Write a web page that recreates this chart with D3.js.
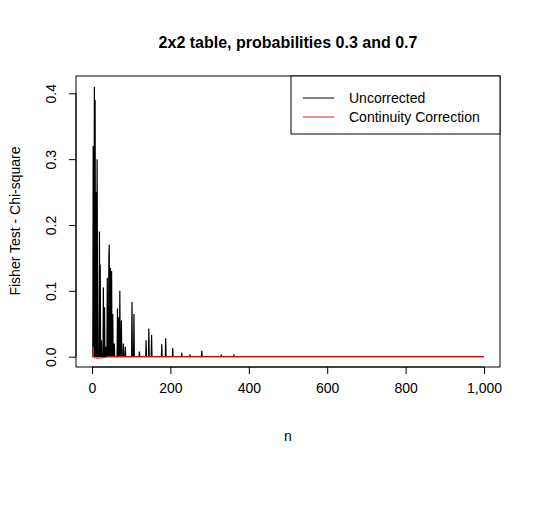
<!DOCTYPE html>
<html><head><meta charset="utf-8">
<script src="https://cdn.jsdelivr.net/npm/d3@7"></script>
<style>body{margin:0;background:#fff}text{font-family:"Liberation Sans",Arial,sans-serif}</style>
</head><body><svg id="chart" width="540" height="520"></svg>
<script>
// spikes of the uncorrected difference, [n, value]; all other n read as 0
const uncorrectedSpikes = [
  [3,.32],[6,.41],[8,.39],[10,.25],[13,.30],[14,.12],[19,.19],[21,.14],[24,.025],
  [29,.105],[32,.075],[35,.015],[39,.12],[43,.15],[44,.17],[47,.135],[50,.13],
  [53,.065],[57,.02],[65,.073],[68,.06],[71,.10],[75,.055],[80,.02],[85,.015],
  [102,.083],[107,.065],[121,.008],[138,.025],[145,.043],[152,.033],[178,.019],
  [188,.028],[206,.013],[229,.006],[250,.003],[280,.009],[330,.003],[362,.002]
];
const correctedPoints = [[1,0],[3,.015],[4,-.001],[10,-.002],[25,-.002],[40,0],[1000,0]];
const nMax = 1000;
const xTicks = [0,200,400,600,800,1000];
const yTicks = [0,0.1,0.2,0.3,0.4];
const seriesNames = ["Uncorrected","Continuity Correction"];
const seriesColors = ["#000","#e41a1c"];

const spikeMap = new Map(uncorrectedSpikes);
const uncorrected = d3.range(1, nMax + 1).map(n => [n, spikeMap.get(n) || 0]);

const svg = d3.select("#chart");
const boxL = 76, boxR = 500, boxT = 76, boxB = 367;
const x = d3.scaleLinear().domain([0, 1000]).range([92, 484]);
const y = d3.scaleLinear().domain([0, 0.4]).range([356.7, 93.3]);

const line = d3.line().x(d => x(d[0])).y(d => y(d[1]));
svg.append("path").datum(uncorrected).attr("d", line)
  .attr("fill", "none").attr("stroke", seriesColors[0]).attr("stroke-width", 1.2);
svg.append("path").datum(correctedPoints).attr("d", line)
  .attr("fill", "none").attr("stroke", seriesColors[1]).attr("stroke-width", 1);

svg.append("rect").attr("x", boxL).attr("y", boxT).attr("width", boxR - boxL).attr("height", boxB - boxT)
  .attr("fill", "none").attr("stroke", "#000");

const xAxis = svg.append("g").attr("transform", `translate(0,${boxB})`)
  .call(d3.axisBottom(x).tickValues(xTicks).tickSize(7).tickPadding(9));
xAxis.select(".domain").attr("d", `M${x(0)},0H${x(1000)}`);
const yAxis = svg.append("g").attr("transform", `translate(${boxL},0)`)
  .call(d3.axisLeft(y).tickValues(yTicks).tickSize(7).tickFormat(d3.format(".1f")));
yAxis.select(".domain").attr("d", `M0,${y(0)}V${y(0.4)}`);
// R draws y tick labels rotated, parallel to the axis
yAxis.selectAll(".tick text")
  .attr("x", 0).attr("dy", 0)
  .attr("transform", "translate(-20,0) rotate(-90)")
  .attr("text-anchor", "middle");
svg.selectAll(".tick text").attr("font-size", 14).attr("fill", "#000")
  .style("font-family", "'Liberation Sans',Arial,sans-serif");
svg.selectAll(".domain, .tick line").attr("stroke", "#000");

svg.append("text").attr("x", 288).attr("y", 48).attr("text-anchor", "middle")
  .attr("font-size", 16).attr("font-weight", "bold").text("2x2 table, probabilities 0.3 and 0.7");
svg.append("text").attr("x", 288).attr("y", 441).attr("text-anchor", "middle")
  .attr("font-size", 14).text("n");
svg.append("text").attr("transform", "translate(20,221) rotate(-90)").attr("text-anchor", "middle")
  .attr("font-size", 14).text("Fisher Test - Chi-square");

const lg = svg.append("g");
lg.append("rect").attr("x", 291).attr("y", 76).attr("width", 209).attr("height", 58)
  .attr("fill", "#fff").attr("stroke", "#000");
seriesNames.forEach((name, i) => {
  const yy = 98 + i * 19;
  lg.append("line").attr("x1", 303).attr("x2", 334).attr("y1", yy).attr("y2", yy)
    .attr("stroke", seriesColors[i]);
  lg.append("text").attr("x", 349).attr("y", yy + 5).attr("font-size", 14).text(name);
});
</script></body></html>
